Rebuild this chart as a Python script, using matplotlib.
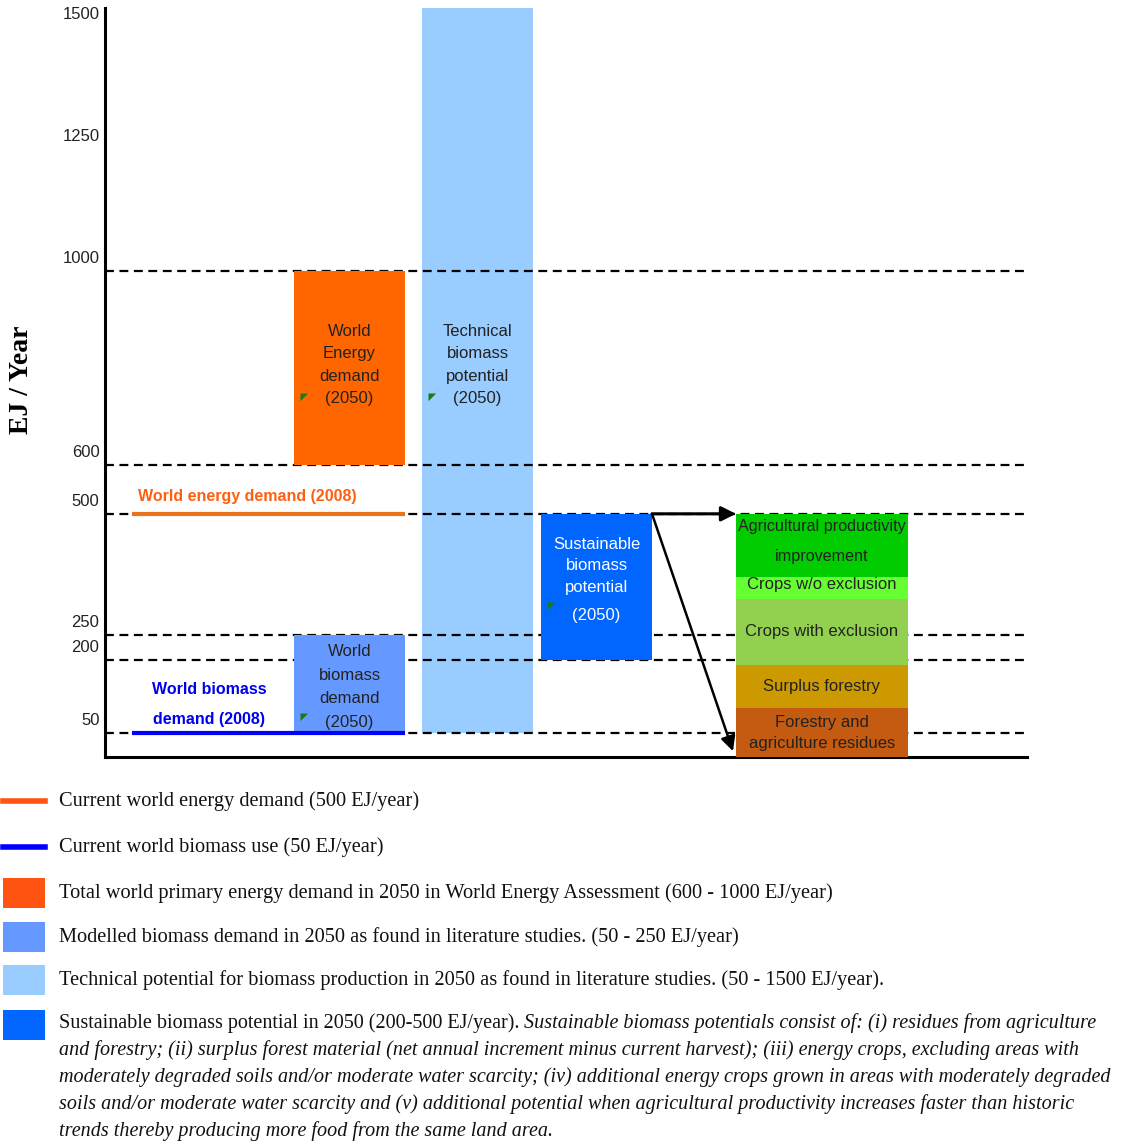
import matplotlib.pyplot as plt
from matplotlib.patches import Rectangle
from matplotlib.lines import Line2D
from matplotlib.transforms import ScaledTranslation

# EJ/year ranges
world_energy_2008 = 500
world_biomass_2008 = 50
energy_demand_2050 = (600, 1000)
biomass_demand_2050 = (50, 250)
technical_potential = (50, 1500)
sustainable_potential = (200, 500)
reference_levels = [1000, 600, 500, 250, 200, 50]
yticks = [50, 200, 250, 500, 600, 1000, 1250, 1500]

# build-up of the sustainable potential (bottom to top)
stack_labels = ['Forestry and\nagriculture residues', 'Surplus forestry',
                'Crops with exclusion', 'Crops w/o exclusion',
                'Agricultural productivity\nimprovement']
stack_bounds = [0, 100, 190, 325, 370, 500]
stack_colors = ['#C55A11', '#CC9900', '#92D050', '#66FF33', '#00CC00']

legend_texts = [
    'Current world energy demand (500 EJ/year)',
    'Current world biomass use (50 EJ/year)',
    'Total world primary energy demand in 2050 in World Energy Assessment (600 - 1000 EJ/year)',
    'Modelled biomass demand in 2050 as found in literature studies. (50 - 250 EJ/year)',
    'Technical potential for biomass production in 2050 as found in literature studies. (50 - 1500 EJ/year).',
]
sust_head = 'Sustainable biomass potential in 2050 (200-500 EJ/year). '
sust_lines = [
    'Sustainable biomass potentials consist of: (i) residues from agriculture',
    'and forestry; (ii) surplus forest material (net annual increment minus current harvest); (iii) energy crops, excluding areas with',
    'moderately degraded soils and/or moderate water scarcity; (iv) additional energy crops grown in areas with moderately degraded',
    'soils and/or moderate water scarcity and (v) additional potential when agricultural productivity increases faster than historic',
    'trends thereby producing more food from the same land area.',
]

c_orange = '#FF6600'
c_orange_leg = '#FF5312'
c_mid_blue = '#6699FF'
c_light_blue = '#99CCFF'
c_blue = '#0066FF'
c_line_orange = '#E8731A'

W, H = 1125, 1142
fig = plt.figure(figsize=(W / 100, H / 100), dpi=100)
ax = fig.add_axes([105 / W, 1 - 757 / H, 922 / W, 749 / H])
ax.set_xlim(0, 9.22)
ax.set_ylim(0, 1540)

sans = 'Liberation Sans'
serif = 'Liberation Serif'

# x layout of the columns
x_demand, x_tech, x_sust, x_stack = 2.445, 3.725, 4.915, 7.17
bw, sw = 1.11, 1.72


def column(xc, lo, hi, color, width=bw, z=3):
    ax.bar(xc, hi - lo, bottom=lo, width=width, color=color, zorder=z, linewidth=0)


column(x_tech, technical_potential[0], ax.get_ylim()[1], c_light_blue, z=1)
column(x_demand, *energy_demand_2050, c_orange)
column(x_demand, *biomass_demand_2050, c_mid_blue)
column(x_sust, *sustainable_potential, c_blue)

for lvl in reference_levels:
    ax.axhline(lvl, color='black', lw=1.6, ls=(0, (4, 2.5)), zorder=2)

for i, (lab, col) in enumerate(zip(stack_labels, stack_colors)):
    lo, hi = stack_bounds[i], stack_bounds[i + 1]
    # top segment sits over the "w/o exclusion" caption
    ax.bar(x_stack, hi - lo, bottom=lo, width=sw, color=col, linewidth=0,
           zorder=3.7 if i == 4 else 3)
    ty = (lo + hi) / 2
    if i == 3:
        ty = 354
    if i == 4:
        ty += 8
    ax.text(x_stack, ty, lab, ha='center', va='center',
            fontsize=11.6 if i == 4 else 12, family=sans,
            color='#222222', zorder=3.5 if i == 3 else 6,
            linespacing=2.2 if i == 4 else 1.5)

# current demand lines
line_x0, line_x1 = 0.27, x_demand + bw / 2
ax.plot([line_x0, line_x1], [world_energy_2008] * 2, color=c_line_orange, lw=3, zorder=4,
        solid_capstyle='butt')
ax.plot([line_x0, line_x1], [world_biomass_2008] * 2, color='#0000FF', lw=3, zorder=4,
        solid_capstyle='butt')
ax.text(0.33, world_energy_2008 + 35, 'World energy demand (2008)', color='#FF6010',
        fontsize=11.5, fontweight='bold', family=sans, va='center')
ax.text(1.04, world_biomass_2008 + 58, 'World biomass\ndemand (2008)', color='#0000EE',
        fontsize=11.5, fontweight='bold', family=sans, va='center', ha='center',
        linespacing=2.2)

# column captions
cap = dict(ha='center', va='center', fontsize=12, family=sans, zorder=6, linespacing=1.62)
ax.text(x_demand, 806, 'World\nEnergy\ndemand\n(2050)', color='#222222', **cap)
ax.text(x_tech, 806, 'Technical\nbiomass\npotential\n(2050)', color='#222222', **cap)
ax.text(x_demand, 144, 'World\nbiomass\ndemand\n(2050)', color='#222222', **{**cap, 'linespacing': 1.7})
ax.text(x_sust, 393, 'Sustainable\nbiomass\npotential', color='white',
        **{**cap, 'linespacing': 1.55})
ax.text(x_sust, 290, '(2050)', color='white', **cap)

# small comment markers in the columns
corner = [(0, 0), (1, 0), (0, -1), (0, 0)]
for cx, cy in [(x_demand - bw / 2 + 0.06, 749), (x_tech - bw / 2 + 0.06, 749),
               (x_sust - bw / 2 + 0.06, 318), (x_demand - bw / 2 + 0.06, 91)]:
    ax.plot(cx, cy, marker=corner, color='#1A7A1A', ms=11, zorder=7, mew=0)

# arrows from the sustainable column to its breakdown
x_from = x_sust + bw / 2
x_to = x_stack - sw / 2
ax.annotate('', xy=(x_to, sustainable_potential[1]), xytext=(x_from, sustainable_potential[1]),
            arrowprops=dict(arrowstyle='-|>', color='black', lw=2.2, mutation_scale=22,
                            shrinkA=0, shrinkB=0), zorder=8)
ax.annotate('', xy=(x_to - 0.03, 12), xytext=(x_from, sustainable_potential[1]),
            arrowprops=dict(arrowstyle='-|>', color='black', lw=1.8, mutation_scale=22,
                            shrinkA=0, shrinkB=0), zorder=8)

ax.set_xticks([])
ax.set_yticks(yticks)
ax.set_yticklabels([str(t) for t in yticks], fontsize=12, family=sans, color='#222222')
ax.tick_params(axis='y', length=0, pad=4)
for lbl in ax.get_yticklabels():
    lbl.set_transform(lbl.get_transform() + ScaledTranslation(0, 0.14, fig.dpi_scale_trans))
for s in ['top', 'right']:
    ax.spines[s].set_visible(False)
ax.spines['left'].set_linewidth(2.2)
ax.spines['bottom'].set_linewidth(2.2)

fig.text(22 / W, 1 - 380 / H, 'EJ / Year', rotation=90, fontsize=20, fontweight='bold',
         family=serif, ha='center', va='center')


# legend block below the chart
def fy(py):
    return 1 - py / H


sw_x0, sw_w = 3 / W, 42 / W
fig.add_artist(Line2D([sw_x0, sw_x0 + sw_w], [fy(801)] * 2, color=c_orange_leg, lw=4))
fig.add_artist(Line2D([sw_x0, sw_x0 + sw_w], [fy(847)] * 2, color='#0000FF', lw=4))
for yc, col in [(893, c_orange_leg), (937, c_mid_blue), (980, c_light_blue), (1025, c_blue)]:
    fig.add_artist(Rectangle((sw_x0, fy(yc + 15)), sw_w, 30 / H, color=col, lw=0))

tx = 59 / W
for yc, txt in zip([801, 847, 893, 937, 980], legend_texts):
    fig.text(tx, fy(yc), txt, fontsize=14.7, family=serif, va='center', color='#111111')

fs_sust = 14.5
head = fig.text(tx, fy(1023), sust_head, fontsize=fs_sust, family=serif, va='center',
                color='#111111')
fig.canvas.draw()
bb = head.get_window_extent()
fig.text(bb.x1 / W, fy(1023), sust_lines[0], fontsize=fs_sust, family=serif, style='italic',
         va='center', color='#111111')
for k, txt in enumerate(sust_lines[1:]):
    fig.text(tx, fy(1050 + 27 * k), txt, fontsize=fs_sust, family=serif, style='italic',
             va='center', color='#111111')

fig.savefig('out.png', dpi=100)
